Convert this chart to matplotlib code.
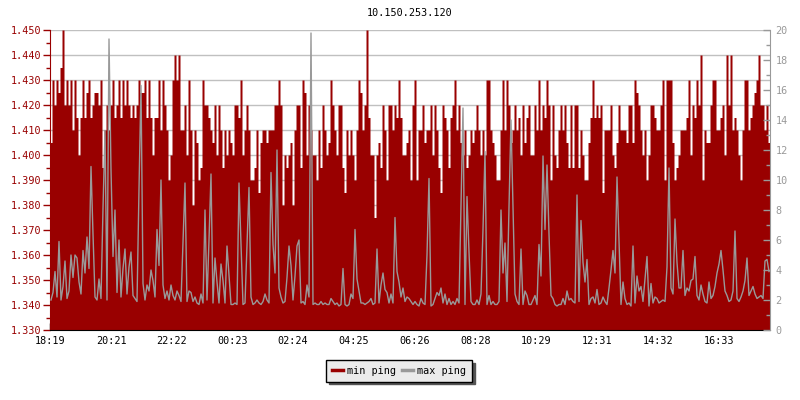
import matplotlib
matplotlib.use("Agg")
import matplotlib.pyplot as plt
from matplotlib.lines import Line2D
import numpy as np

title = "10.150.253.120"
time_labels = ["18:19", "20:21", "22:22", "00:23", "02:24", "04:25",
               "06:26", "08:28", "10:29", "12:31", "14:32", "16:33"]
span_minutes = 1436

# min ping (ms), read left to right
min_ping = [
    1.405, 1.430, 1.420, 1.430, 1.425, 1.435, 1.450, 1.420, 1.430, 1.420,
    1.430, 1.410, 1.430, 1.415, 1.400, 1.415, 1.430, 1.415, 1.425, 1.430,
    1.415, 1.420, 1.425, 1.425, 1.420, 1.430, 1.395, 1.410, 1.420, 1.410,
    1.420, 1.430, 1.415, 1.420, 1.430, 1.415, 1.430, 1.420, 1.430, 1.420,
    1.415, 1.420, 1.415, 1.420, 1.430, 1.425, 1.425, 1.430, 1.415, 1.430,
    1.415, 1.400, 1.415, 1.415, 1.430, 1.410, 1.430, 1.420, 1.410, 1.390,
    1.400, 1.430, 1.440, 1.430, 1.440, 1.410, 1.410, 1.420, 1.400, 1.430,
    1.410, 1.380, 1.410, 1.405, 1.390, 1.395, 1.430, 1.420, 1.420, 1.415,
    1.410, 1.405, 1.420, 1.400, 1.420, 1.410, 1.395, 1.410, 1.400, 1.410,
    1.405, 1.400, 1.420, 1.420, 1.415, 1.430, 1.400, 1.410, 1.420, 1.410,
    1.390, 1.390, 1.395, 1.410, 1.385, 1.405, 1.410, 1.410, 1.405, 1.410,
    1.410, 1.410, 1.420, 1.420, 1.430, 1.420, 1.380, 1.400, 1.395, 1.400,
    1.405, 1.380, 1.410, 1.420, 1.420, 1.395, 1.430, 1.425, 1.400, 1.420,
    1.410, 1.400, 1.400, 1.390, 1.410, 1.395, 1.420, 1.410, 1.400, 1.405,
    1.430, 1.420, 1.410, 1.400, 1.420, 1.420, 1.395, 1.385, 1.410, 1.400,
    1.410, 1.400, 1.390, 1.410, 1.430, 1.425, 1.410, 1.420, 1.450, 1.415,
    1.400, 1.400, 1.375, 1.400, 1.405, 1.395, 1.420, 1.410, 1.390, 1.420,
    1.420, 1.410, 1.420, 1.415, 1.430, 1.415, 1.400, 1.400, 1.405, 1.410,
    1.390, 1.420, 1.430, 1.390, 1.410, 1.410, 1.420, 1.405, 1.410, 1.410,
    1.420, 1.400, 1.420, 1.410, 1.395, 1.385, 1.420, 1.415, 1.410, 1.395,
    1.415, 1.420, 1.430, 1.410, 1.420, 1.405, 1.400, 1.410, 1.395, 1.400,
    1.410, 1.405, 1.410, 1.420, 1.410, 1.400, 1.410, 1.400, 1.430, 1.430,
    1.410, 1.405, 1.400, 1.390, 1.390, 1.410, 1.430, 1.410, 1.430, 1.420,
    1.405, 1.410, 1.420, 1.410, 1.415, 1.400, 1.420, 1.405, 1.415, 1.420,
    1.400, 1.400, 1.420, 1.410, 1.430, 1.410, 1.420, 1.415, 1.430, 1.420,
    1.390, 1.420, 1.400, 1.395, 1.410, 1.420, 1.410, 1.420, 1.405, 1.395,
    1.420, 1.395, 1.420, 1.420, 1.395, 1.410, 1.400, 1.390, 1.390, 1.405,
    1.415, 1.430, 1.415, 1.420, 1.415, 1.420, 1.385, 1.410, 1.410, 1.410,
    1.420, 1.400, 1.395, 1.405, 1.420, 1.410, 1.410, 1.410, 1.405, 1.420,
    1.420, 1.405, 1.430, 1.425, 1.420, 1.410, 1.400, 1.410, 1.390, 1.400,
    1.420, 1.420, 1.415, 1.410, 1.410, 1.420, 1.430, 1.390, 1.430, 1.430,
    1.430, 1.405, 1.390, 1.395, 1.400, 1.410, 1.410, 1.410, 1.415, 1.430,
    1.400, 1.420, 1.415, 1.430, 1.420, 1.440, 1.390, 1.410, 1.405, 1.405,
    1.420, 1.430, 1.430, 1.410, 1.410, 1.415, 1.420, 1.400, 1.440, 1.420,
    1.440, 1.410, 1.415, 1.410, 1.400, 1.390, 1.410, 1.430, 1.430, 1.410,
    1.415, 1.420, 1.425, 1.430, 1.440, 1.420, 1.420, 1.410, 1.420, 1.405,
]

# max ping (ms), right axis
max_ping = [
    2.0, 2.5, 3.9, 2.2, 5.9, 2.0, 2.9, 4.6, 2.1, 2.6,
    5.0, 3.5, 5.0, 4.8, 3.2, 2.4, 5.3, 3.8, 6.2, 4.1,
    10.9, 6.4, 2.2, 2.0, 3.4, 2.1, 8.1, 13.3, 2.0, 19.4,
    10.7, 4.9, 8.0, 2.5, 6.0, 2.2, 4.1, 5.4, 2.4, 4.2,
    5.2, 2.3, 2.1, 1.9, 9.4, 16.3, 3.1, 2.0, 3.0, 2.6,
    4.0, 3.3, 2.2, 6.7, 4.3, 10.0, 3.0, 2.1, 2.6, 2.0,
    3.0, 2.3, 2.0, 2.6, 2.3, 1.9, 5.8, 9.8, 1.9, 2.6,
    2.5, 1.9, 2.2, 1.8, 1.7, 2.4, 1.8, 8.0, 2.0, 6.0,
    10.4, 1.8, 4.8, 3.2, 1.8, 4.4, 3.3, 1.8, 5.6, 3.6,
    1.7, 1.7, 1.8, 1.7, 9.8, 5.7, 1.7, 1.8, 5.7, 9.5,
    2.2, 1.7, 1.8, 2.0, 1.8, 1.7, 1.9, 2.4, 2.0, 1.8,
    10.5, 5.7, 3.8, 12.0, 2.8, 2.2, 1.8, 1.9, 3.5, 5.6,
    4.3, 2.0, 3.6, 5.6, 6.0, 1.8, 1.9, 1.7, 3.0, 2.2,
    19.8, 1.7, 1.8, 1.7, 1.7, 1.9, 1.7, 1.8, 1.7, 1.7,
    2.1, 1.9, 1.7, 1.8, 1.6, 1.7, 4.1, 1.7, 1.6, 1.7,
    2.4, 2.1, 6.7, 3.4, 2.6, 1.8, 1.8, 1.7, 1.8, 1.9,
    2.1, 1.7, 1.8, 5.4, 1.8, 3.0, 3.8, 2.7, 2.5, 1.8,
    2.4, 1.8, 7.5, 3.9, 3.2, 2.2, 2.8, 1.9, 2.2, 2.1,
    1.9, 1.7, 1.9, 1.7, 1.6, 2.1, 1.8, 1.7, 5.0, 10.1,
    1.6, 1.7, 2.1, 2.5, 2.3, 2.8, 1.8, 2.4, 1.7, 2.1,
    1.7, 1.9, 1.7, 2.1, 1.8, 8.4, 14.8, 1.7, 8.9, 5.2,
    1.9, 1.7, 1.7, 2.0, 1.7, 2.4, 6.7, 11.9, 1.7, 2.3,
    1.7, 1.9, 1.7, 1.7, 1.9, 8.0, 3.8, 5.8, 1.9, 8.2,
    14.0, 8.2, 2.4, 1.9, 1.7, 5.4, 1.7, 2.6, 2.3, 1.7,
    1.7, 2.0, 2.3, 1.7, 5.7, 3.6, 11.6, 6.7, 11.0, 6.4,
    2.3, 2.1, 1.7, 1.6, 1.7, 1.7, 2.1, 1.7, 2.6, 2.0,
    2.1, 1.9, 1.8, 9.0, 1.9, 7.3, 4.5, 3.2, 4.7, 1.7,
    2.1, 2.2, 1.8, 2.7, 1.7, 1.8, 2.2, 1.9, 1.7, 2.8,
    4.0, 5.3, 3.8, 10.2, 5.9, 1.7, 3.2, 2.1, 1.7, 1.8,
    1.6, 5.6, 1.8, 3.6, 2.6, 2.9, 1.9, 3.4, 4.9, 1.6,
    3.1, 1.8, 2.2, 2.1, 1.8, 1.9, 2.0, 1.9, 4.2, 10.8,
    2.8, 2.4, 7.4, 4.5, 2.8, 2.8, 5.3, 2.3, 2.8, 2.6,
    3.3, 3.4, 4.9, 2.3, 2.0, 3.0, 2.4, 1.9, 1.8, 3.2,
    2.1, 2.3, 2.9, 3.8, 4.4, 5.3, 4.0, 2.6, 2.3, 1.9,
    2.0, 2.6, 6.6, 2.1, 1.9, 2.2, 2.6, 3.3, 4.8, 2.3,
    2.6, 2.9, 2.4, 2.1, 2.2, 2.3, 2.1, 4.6, 4.7, 3.9,
]

RED = "#990000"
GRAY = "#999999"

plt.rcParams["font.family"] = "DejaVu Sans Mono"
plt.rcParams["font.size"] = 7.3


def minutes_after_start(label):
    h, m = map(int, label.split(":"))
    h0, m0 = map(int, time_labels[0].split(":"))
    return (h * 60 + m - (h0 * 60 + m0)) % 1440


n = len(min_ping)
step = span_minutes / n
x_edges = np.arange(n + 1) * step
min_ext = np.append(min_ping, min_ping[-1])
x_mid = (np.arange(n) + 0.5) * step

fig = plt.figure(figsize=(8, 4), dpi=100)
ax = fig.add_axes([50 / 800, 70 / 400, 720 / 800, 300 / 400])

ax.fill_between(x_edges, min_ext, 1.33, step="post", color=RED, lw=0, antialiased=False)
ax.set_xlim(0, span_minutes)
ax.set_ylim(1.33, 1.45)
ax.set_axisbelow(True)
ax.yaxis.grid(True, color="#c0c0c0", lw=1)

ax.set_yticks(np.arange(1.33, 1.4501, 0.01))
ax.set_yticks(np.arange(1.335, 1.45, 0.01), minor=True)
ax.yaxis.set_major_formatter(matplotlib.ticker.FormatStrFormatter("%.3f"))
ax.tick_params(axis="y", which="major", direction="out", length=5, width=1,
               color=RED, labelcolor=RED, pad=1.5)
ax.tick_params(axis="y", which="minor", direction="out", length=3, width=1, color=RED)

ax.set_xticks([minutes_after_start(t) for t in time_labels])
ax.set_xticklabels(time_labels)
ax.tick_params(axis="x", direction="in", length=5, width=1, color="black", pad=4)

ax.spines["top"].set_visible(False)
ax.spines["right"].set_visible(False)
ax.spines["left"].set_color(RED)
ax.spines["bottom"].set_color("black")

ax2 = ax.twinx()
ax2.plot(x_mid, max_ping, color=GRAY, lw=1)
ax2.set_ylim(0, 20)
ax2.set_yticks(np.arange(0, 21, 2))
ax2.set_yticks(np.arange(1, 20, 2), minor=True)
ax2.tick_params(axis="y", which="major", direction="in", length=5, width=1,
                color=GRAY, labelcolor=GRAY, pad=4)
ax2.tick_params(axis="y", which="minor", direction="in", length=3, width=1, color=GRAY)
for side in ["top", "left", "bottom"]:
    ax2.spines[side].set_visible(False)
ax2.spines["right"].set_color(GRAY)

fig.text(410 / 800, 1 - 13 / 400, title, ha="center", va="center")

handles = [Line2D([], [], color=RED, lw=2.5), Line2D([], [], color=GRAY, lw=2.5)]
fig.legend(handles, ["min ping", "max ping"], loc="center",
           bbox_to_anchor=(399 / 800, 1 - 371 / 400), ncol=2,
           frameon=True, fancybox=False, facecolor="#ebebeb", edgecolor="black",
           framealpha=1, handlelength=1.1, handletextpad=0.4, columnspacing=0.6,
           borderpad=0.55, shadow={"color": "#555555", "alpha": 1})

fig.savefig("out.png", dpi=100)
